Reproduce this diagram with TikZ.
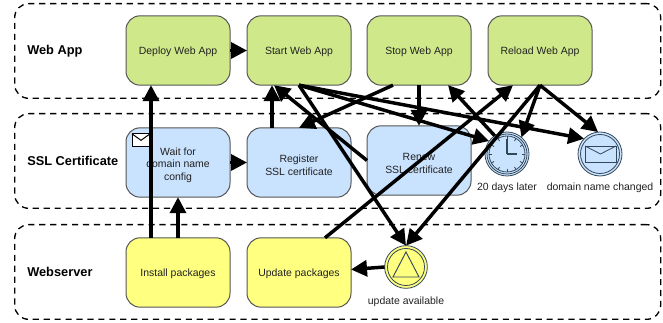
\documentclass[tikz,border=0pt]{standalone}
\usepackage{fontspec}
\setmainfont{Liberation Sans}
\usetikzlibrary{arrows.meta,calc}
\definecolor{gfill}{HTML}{CFE98A}
\definecolor{bfill}{HTML}{C9E2FD}
\definecolor{yfill}{HTML}{FFFF80}
\definecolor{edgegray}{HTML}{555555}
\definecolor{evline}{HTML}{33475B}
\definecolor{txt}{HTML}{222222}
\tikzset{
  lane/.style={draw=black,line width=1pt,dash pattern=on 4.6pt off 3.6pt,rounded corners=10.5pt},
  lanetitle/.style={anchor=west,font=\fontsize{9.6}{12}\selectfont\bfseries,text=black,inner sep=0pt},
  task/.style={draw=edgegray,line width=0.75pt,rounded corners=10.5pt,minimum width=78pt,minimum height=52pt,inner sep=0pt,outer sep=0pt,align=center,font=\fontsize{7.85}{9.4}\selectfont,text=txt},
  greentask/.style={task,fill=gfill},
  bluetask/.style={task,fill=bfill},
  yellowtask/.style={task,fill=yfill},
  event/.style={circle,draw=evline,line width=0.6pt,minimum size=33pt,inner sep=0pt,outer sep=0pt},
  evlabel/.style={font=\fontsize{7.85}{9.4}\selectfont,text=txt,inner sep=0pt},
  flow/.style={line width=2.6pt,draw=black,-{Triangle[length=12pt,width=12pt]}},
  icon/.style={draw=evline,line width=0.6pt}
}
\newcommand{\lift}[1]{\rule{0pt}{#1pt}}
\begin{document}
\begin{tikzpicture}[x=0.75pt,y=-0.75pt]
\useasboundingbox (0,0) rectangle (663,323);
\fill[white] (0,0) rectangle (663,323);
% lanes
\node[lane,minimum width=484.5pt,minimum height=71pt,anchor=north west] (laneA) at (14,3) {};
\node[lane,minimum width=484.5pt,minimum height=71pt,anchor=north west] (laneB) at (14,113) {};
\node[lane,minimum width=484.5pt,minimum height=71pt,anchor=north west] (laneC) at (14,224) {};
\node[lanetitle] (tA) at (27,51) {Web App};
\node[lanetitle] (tB) at (27,161) {SSL Certificate};
\node[lanetitle] (tC) at (27,272) {Webserver};
% tasks
\node[greentask] (deploy) at (178,50.5) {\lift{7.5}Deploy Web App};
\node[greentask] (start) at (299,50.5) {\lift{7.5}Start Web App};
\node[greentask] (stop) at (419,50.5) {\lift{7.5}Stop Web App};
\node[greentask] (reload) at (540,50.5) {\lift{7.5}Reload Web App};
\node[bluetask] (wait) at (178,162.5) {\lift{9.5}Wait for\\domain name\\config};
\node[bluetask] (register) at (299,162.5) {\lift{9.5}Register\\SSL certificate};
\node[bluetask] (renew) at (419,160.5) {\lift{9.5}Renew\\SSL certificate};
\node[yellowtask] (install) at (178,272.5) {\lift{7.5}Install packages};
\node[yellowtask] (update) at (299,272.5) {\lift{7.5}Update packages};
% events
\node[event,fill=bfill] (clock) at (507,154) {};
\node[event,fill=bfill] (mail) at (600,154) {};
\node[event,fill=yfill,minimum size=32pt] (avail) at (406,267) {};
\node[evlabel] (clockL) at (507,188) {20 days later};
\node[evlabel] (mailL) at (600,188) {domain name changed};
\node[evlabel] (availL) at (406,302) {update available};
% event inner rings
\draw[icon] (clock) circle (20); \draw[icon] (clock) circle (18);
\draw[icon] (mail) circle (19.5);
\draw[icon] (avail) circle (18.5);
% clock face
\begin{scope}[shift={(clock.center)}]
\foreach \a in {0,30,...,330}{\draw[icon] (\a:15) -- (\a:18);}
\draw[icon,line width=0.8pt] (0,0) -- (0,-15);
\draw[icon,line width=0.8pt] (0,0) -- (10,0);
\end{scope}
% mail icon
\begin{scope}[shift={(mail.center)}]
\draw[icon] (-15,-8) rectangle (16,8);
\draw[icon] (-15,-8) -- (0.5,0) -- (16,-8);
\end{scope}
% triangle icon
\begin{scope}[shift={(avail.center)}]
\draw[icon,line width=0.7pt] (0,-15) -- (13,10) -- (-13,10) -- cycle;
\end{scope}
% small envelope in Wait
\begin{scope}[shift={(wait.north west)}]
\draw[black,fill=white,line width=0.75pt] (6,6) rectangle (24,18.5);
\draw[black,line width=0.75pt] (6,6) -- (15,12.5) -- (24,6);
\end{scope}
% flows
\draw[flow] (deploy) -- (start);
\draw[flow] ($(install.north)+(-27,0)$) -- ($(deploy.south)+(-27,0)$);
\draw[flow] (install.north) -- (wait.south);
\draw[flow] (wait) -- (register);
\draw[flow] ($(register.north)+(-27,0)$) -- ($(start.south)+(-27,0)$);
\draw[flow] ($(renew.west)+(0,0)$) -- ($(start.south)+(-25,0)$);
\draw[flow] ($(stop.south)+(-26,0)$) -- (register.north);
\draw[flow] (stop.south) -- (renew.north);
\draw[flow] (start.south) -- (clock.144);
\draw[flow] (start.south) -- (mail.136);
\draw[flow] (start.south) -- (avail.90);
\draw[flow] (clock.124) -- ($(stop.south)+(29,0)$);
\draw[flow] ($(update.north)+(26,0)$) -- ($(reload.south)+(-27,0)$);
\draw[flow] (reload.south) -- (clock.49);
\draw[flow] (reload.south) -- (mail.95);
\draw[flow] (reload.south) -- (avail.90);
\draw[flow] (avail.west) -- ($(update.east)+(0,-3)$);
\end{tikzpicture}
\end{document}
